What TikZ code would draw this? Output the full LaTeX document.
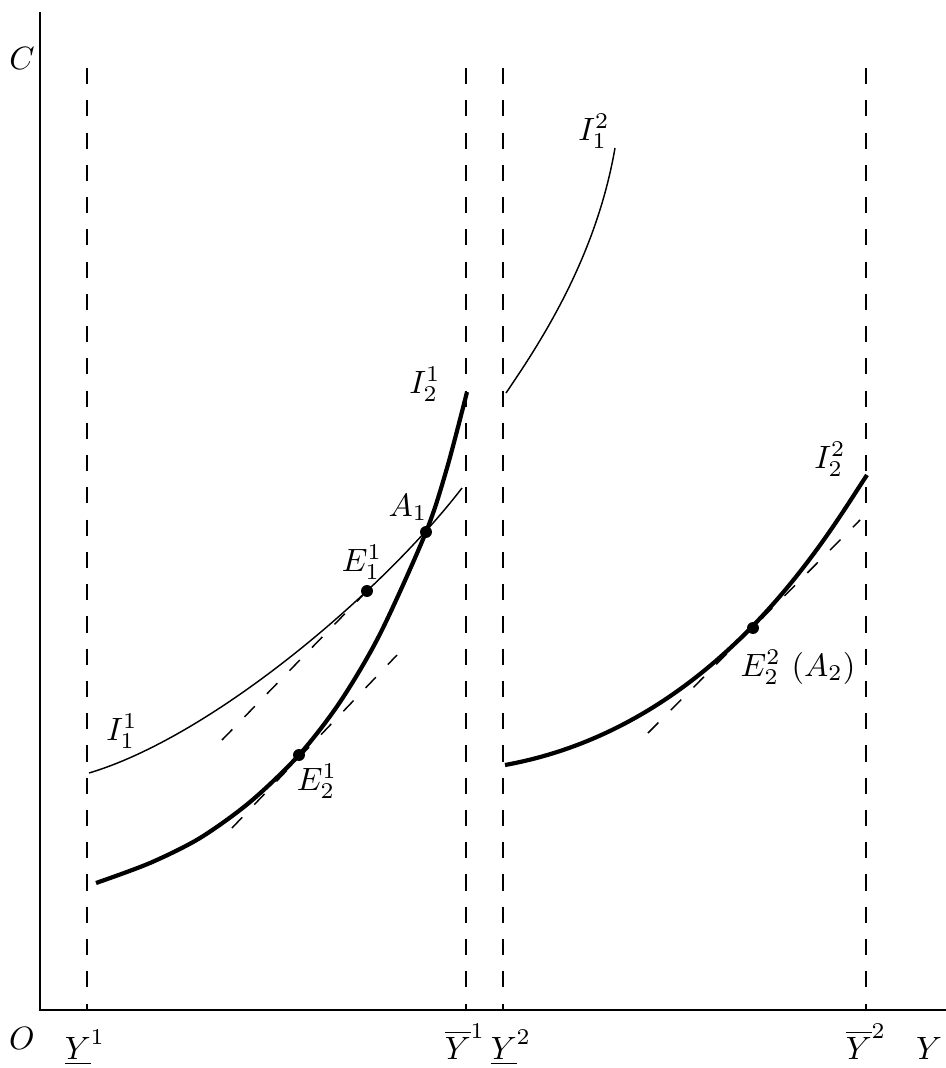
\documentclass[tikz,border=0pt]{standalone}
\usepackage{amsmath}
\usetikzlibrary{positioning}
\tikzset{
  axisline/.style={line width=.6pt},
  guide/.style={line width=.55pt, dash pattern=on 5pt off 5pt},
  icurve/.style={line width=.45pt},
  icurvebold/.style={line width=1.3pt},
  budget/.style={line width=.45pt, dash pattern=on 4.6pt off 5.4pt},
  eqpt/.style={circle, fill=black, inner sep=0pt, minimum size=3.7pt},
  lbl/.style={inner sep=0pt, anchor=base},
}

\begin{document}
\begin{tikzpicture}[x=0.31pt, y=-0.31pt]
  \useasboundingbox (0,0) rectangle (946,1068);
  % axes
  \coordinate (ctop) at (40,12);
  \coordinate (o)    at (40,1010);
  \coordinate (yend) at (946,1010);
  \draw[axisline] (ctop) -- (o) -- (yend);
  \node[lbl] (clab) at (22,69)    {$C$};
  \node[lbl] (olab) at (22,1049)  {$O$};
  \node[lbl] (ylab) at (929,1059) {$Y$};

  % income bounds of the two periods
  \foreach \x/\n in {87/ylo1, 466/yhi1, 503/ylo2, 866/yhi2} {
    \coordinate (\n top) at (\x,68);
    \coordinate (\n) at (\x,1010);
    \draw[guide] (\n top) -- (\n);
  }
  \node[lbl] (ylo1lab) at (85,1059)  {$\underline{Y}^1$};
  \node[lbl] (yhi1lab) at (465,1059) {$\overline{Y}^1$};
  \node[lbl] (ylo2lab) at (511,1059) {$\underline{Y}^2$};
  \node[lbl] (yhi2lab) at (866,1059) {$\overline{Y}^2$};

  % period 1
  \draw[icurve] (89,773) .. controls (213,736) and (382,592) .. (462,488);
  \draw[icurvebold] plot[smooth] coordinates {(96,883) (150,863) (200,838)
        (250,802) (299,755) (340,702) (380,634) (426,532) (447,468) (467,392)};
  \node[eqpt] (e11) at (367,591) {};
  \node[eqpt] (a1)  at (426,532) {};
  \node[eqpt] (e21) at (299,755) {};
  \coordinate (bud1a) at (222,740);
  \coordinate (bud1b) at (232,828);
  \coordinate (bud1c) at (397,655);
  \draw[budget] (bud1a) -- (e11);
  \draw[budget] (bud1b) -- (bud1c);
  \node[lbl] (i11lab) at (122,740) {$I_1^1$};
  \node[lbl] (i21lab) at (425,393) {$I_2^1$};
  \node[lbl] (e11lab) at (362,571) {$E_1^1$};
  \node[lbl] (a1lab)  at (408,516) {$A_1$};
  \node[lbl] (e21lab) at (317,790) {$E_2^1$};

  % period 2
  \draw[icurve] (506,393) .. controls (540,343) and (596,258) .. (615,148);
  \draw[icurvebold] (505,765) .. controls (720,726) and (830,530) .. (867,475);
  \node[eqpt] (e22) at (753,628) {};
  \coordinate (bud2a) at (648,733);
  \coordinate (bud2b) at (860,520);
  \draw[budget] (bud2a) -- (bud2b);
  \node[lbl] (i12lab) at (594,140) {$I_1^2$};
  \node[lbl] (i22lab) at (830,468) {$I_2^2$};
  \node[lbl] (e22lab) at (798,676) {$E_2^2\ (A_2)$};
\end{tikzpicture}
\end{document}
